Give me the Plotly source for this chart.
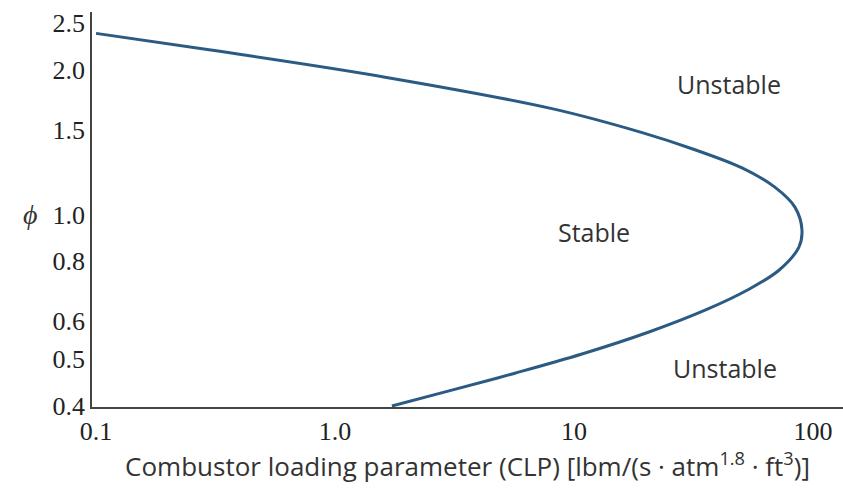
import math
import plotly.graph_objects as go

# Stability loop: combustor loading parameter vs equivalence ratio
clp = [0.1, 0.297, 1.62, 8.09, 19.3, 31.2, 50.5, 69.3, 84.2, 90.0,
       87.3, 72.1, 53.0, 36.0, 20.6, 10.8, 5.66, 3.00, 1.73]
phi = [2.38, 2.20, 1.93, 1.66, 1.48, 1.37, 1.25, 1.14, 1.035, 0.929,
       0.855, 0.766, 0.696, 0.635, 0.570, 0.513, 0.468, 0.430, 0.40]

x_ticks = [0.1, 1.0, 10, 100]
x_tick_text = ["0.1", "1.0", "10", "100"]
y_ticks = [0.4, 0.5, 0.6, 0.8, 1.0, 1.5, 2.0, 2.5]
y_tick_text = ["0.4", "0.5", "0.6", "0.8", "1.0", "1.5", "2.0", "2.5"]

region_labels = ["Unstable", "Stable", "Unstable"]
region_x = [44.6, 12.1, 42.9]
region_y = [1.87, 0.92, 0.48]

serif = "Liberation Serif"
sans = "Open Sans"

fig = go.Figure()
fig.add_trace(go.Scatter(
    x=clp, y=phi, mode="lines",
    line=dict(color="#2b5b82", width=3, shape="spline", smoothing=1.0),
    hoverinfo="skip", showlegend=False,
))

# annotations on log axes are positioned in log10 units
for t, xv, yv in zip(region_labels, region_x, region_y):
    fig.add_annotation(x=math.log10(xv), y=math.log10(yv), xref="x", yref="y",
                       text=t, showarrow=False,
                       font=dict(family=sans, size=25, color="#333333"))

fig.add_annotation(xref="paper", yref="y", x=-0.095, y=0.0, text="<i>ϕ</i>",
                   showarrow=False, font=dict(family=serif, size=28, color="#333333"))

fig.update_xaxes(
    type="log", range=[-1.017, 2.126],
    tickvals=x_ticks, ticktext=x_tick_text,
    showgrid=False, zeroline=False, ticks="",
    showline=True, linecolor="#444444", linewidth=1.5,
    tickfont=dict(family=serif, size=26, color="#222222"),
    title=dict(text="Combustor loading parameter (CLP) [lbm/(s · atm<sup>1.8</sup> · ft<sup>3</sup>)]",
               font=dict(family=sans, size=26, color="#333333"), standoff=6),
)
fig.update_yaxes(
    type="log", range=[-0.400, 0.421],
    tickvals=y_ticks, ticktext=y_tick_text,
    showgrid=False, zeroline=False, ticks="",
    showline=True, linecolor="#444444", linewidth=1.5,
    tickfont=dict(family=serif, size=26, color="#222222"),
)

fig.update_layout(
    width=843, height=491,
    margin=dict(l=92, r=0, t=12, b=84, autoexpand=False),
    paper_bgcolor="white", plot_bgcolor="white",
)

fig.write_html("out.html")
